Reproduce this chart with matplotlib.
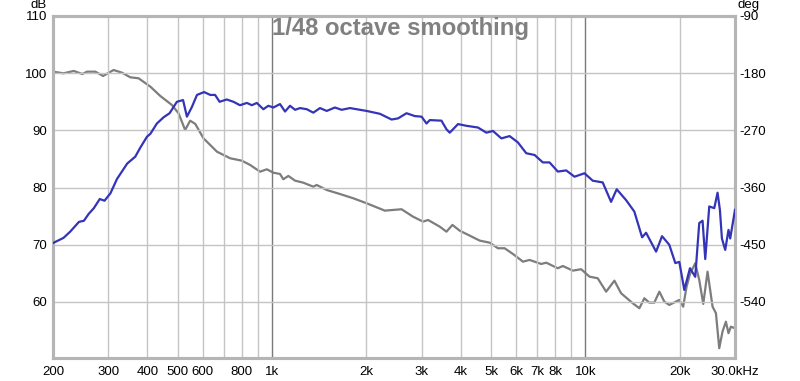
import matplotlib
matplotlib.use("Agg")
import matplotlib.pyplot as plt
from matplotlib.ticker import FixedLocator, NullLocator

plt.rcParams['font.family'] = ['Liberation Sans', 'DejaVu Sans']

# SPL curve (blue, left axis, dB)
spl_freq = [200, 216, 227, 242, 251, 260, 270, 282, 292, 305, 320, 345, 366, 380, 399,
            409, 429, 451, 471, 497, 520, 535, 555, 576, 607, 635, 658, 680, 717, 753,
            790, 831, 862, 894, 938, 973, 1010, 1060, 1100, 1141, 1184, 1228, 1290, 1354,
            1422, 1494, 1587, 1667, 1772, 2003, 2208, 2406, 2525, 2685, 2854, 3000, 3110,
            3186, 3471, 3601, 3689, 3921, 4170, 4540, 4829, 5068, 5390, 5728, 6087, 6473,
            6880, 7311, 7681, 8162, 8680, 9226, 9927, 10550, 11350, 12070, 12580, 13480,
            14320, 15160, 15610, 16800, 17550, 18510, 19350, 19930, 20670, 21550, 22400,
            23070, 23640, 24110, 24830, 25760, 26390, 26850, 27250, 27920, 28600, 28960, 30000]
spl_db = [70.3, 71.2, 72.3, 74.0, 74.2, 75.4, 76.4, 78.0, 77.7, 79.0, 81.5, 84.2, 85.4, 87.0, 88.9,
          89.4, 91.2, 92.3, 93.0, 95.0, 95.3, 92.4, 94.1, 96.2, 96.7, 96.2, 96.2, 95.0, 95.4, 95.0,
          94.4, 94.8, 94.4, 94.8, 93.7, 94.3, 94.0, 94.6, 93.3, 94.3, 93.6, 93.9, 93.7, 93.1,
          93.9, 93.4, 94.0, 93.6, 93.9, 93.4, 92.9, 91.9, 92.1, 93.0, 92.5, 92.4, 91.2,
          91.8, 91.7, 90.2, 89.6, 91.1, 90.8, 90.5, 89.6, 89.9, 88.6, 89.0, 87.9, 86.0,
          85.7, 84.4, 84.4, 82.8, 83.0, 81.9, 82.5, 81.2, 80.9, 77.5, 79.7, 77.8,
          75.8, 71.3, 72.1, 68.8, 71.5, 70.0, 66.8, 67.0, 62.1, 65.9, 64.4,
          73.8, 74.2, 67.5, 76.7, 76.4, 79.1, 76.1, 71.1, 69.1, 72.6, 71.1, 76.1]

# Phase curve (gray, right axis, degrees)
ph_freq = [200, 216, 233, 248, 257, 273, 289, 312, 332, 353, 375, 409, 440, 479, 503, 528,
           548, 569, 604, 667, 735, 801, 851, 916, 962, 1010, 1060, 1086, 1127, 1184, 1258,
           1354, 1388, 1494, 1646, 1815, 2003, 2290, 2589, 2818, 3032, 3147, 3428, 3601,
           3763, 3969, 4600, 4947, 5257, 5521, 5869, 6317, 6633, 7226, 7495, 8162, 8468,
           9111, 9690, 10300, 10940, 11640, 12370, 12990, 14150, 14860, 15410, 15990, 16580,
           17210, 17850, 18510, 19930, 20500, 21020, 21560, 22400, 23070, 23760, 24520,
           25440, 26080, 26720, 27370, 28060, 28600, 29110, 30000]
ph_deg = [-177.6, -180.2, -176.5, -181.3, -177.6, -177.6, -184.4, -175.0, -179.2, -186.5, -188.0,
          -201.2, -215.9, -230.0, -243.1, -269.4, -254.7, -259.9, -282.4, -303.5, -313.9, -317.7,
          -324.4, -335.0, -331.2, -336.6, -338.6, -346.9, -341.7, -349.1, -352.3, -358.6, -355.9,
          -363.8, -370.1, -376.8, -384.7, -396.3, -394.1, -405.8, -413.6, -411.0, -421.5, -429.4,
          -418.8, -427.8, -443.5, -446.7, -455.5, -455.5, -464.5, -476.6, -473.9, -480.2, -478.2,
          -487.0, -483.4, -490.7, -488.5, -500.2, -502.7, -523.8, -506.5, -526.3, -542.0, -549.9,
          -534.2, -541.1, -541.1, -523.8, -539.5, -544.7, -536.8, -547.4, -515.9, -495.9, -479.1,
          -505.4, -543.1, -492.3, -547.4, -557.8, -612.8, -586.7, -571.0, -589.2, -578.9, -581.4]

db_ticks = [60, 70, 80, 90, 100, 110]
deg_ticks = [-90, -180, -270, -360, -450, -540]
x_grid = [300, 400, 500, 600, 700, 800, 900, 2000, 3000, 4000, 5000, 6000, 7000, 8000, 9000, 20000]
x_major = [1000, 10000]
x_labels = {200: "200", 300: "300", 400: "400", 500: "500", 600: "600", 800: "800",
            1000: "1k", 2000: "2k", 3000: "3k", 4000: "4k", 5000: "5k", 6000: "6k",
            7000: "7k", 8000: "8k", 10000: "10k", 20000: "20k", 30000: "30.0kHz"}

W, H = 800, 381
fig = plt.figure(figsize=(W / 100, H / 100), dpi=100)
L, R, T, B = 53, 735, 16, 358
ax = fig.add_axes([L / W, 1 - B / H, (R - L) / W, (B - T) / H])
ax.set_xscale('log')
xmin, xmax = 200, 30000
ymin, ymax = 50.2, 110
ax.set_xlim(xmin, xmax)
ax.set_ylim(ymin, ymax)

ax2 = ax.twinx()
ax2.set_ylim(-90 - (110 - ymin) * 9, -90)

grid_c = '#c4c4c4'
for xv in x_grid:
    ax.axvline(xv, color=grid_c, lw=1, zorder=1)
for xv in x_major:
    ax.axvline(xv, color='#7a7a7a', lw=1, zorder=1)
for yv in db_ticks[:-1]:
    ax.axhline(yv, color=grid_c, lw=1, zorder=1)

ax.plot(spl_freq, spl_db, color='#3434b8', lw=1.6, zorder=3, solid_joinstyle='round')
ax2.plot(ph_freq, ph_deg, color='#7d7d7d', lw=1.6, zorder=2, solid_joinstyle='round')
ax.set_zorder(ax2.get_zorder() + 1)
ax.patch.set_visible(False)

for a in (ax, ax2):
    for s in a.spines.values():
        s.set_color('#b5b5b5')
        s.set_linewidth(2.2)
    a.tick_params(length=0, labelsize=9.5, colors='black')

ax.xaxis.set_major_locator(FixedLocator(list(x_labels.keys())))
ax.xaxis.set_minor_locator(NullLocator())
ax.set_xticklabels(list(x_labels.values()))
ax.tick_params(axis='x', pad=6)
ax.set_yticks(db_ticks)
ax.tick_params(axis='y', pad=4)
ax2.set_yticks(deg_ticks)
ax2.set_yticklabels([str(v) for v in deg_ticks])
ax2.tick_params(axis='y', pad=3)

fig.text(47 / W, 1 - 5 / H, "dB", ha='right', va='center', fontsize=9.5)
fig.text(737 / W, 1 - 5 / H, "deg", ha='left', va='center', fontsize=9.5)
fig.text(400 / W, 1 - 29 / H, "1/48 octave smoothing", ha='center', va='center',
         fontsize=17.2, fontweight='bold', color='#808080', zorder=5)

fig.savefig("out.png", dpi=100, facecolor='white')
